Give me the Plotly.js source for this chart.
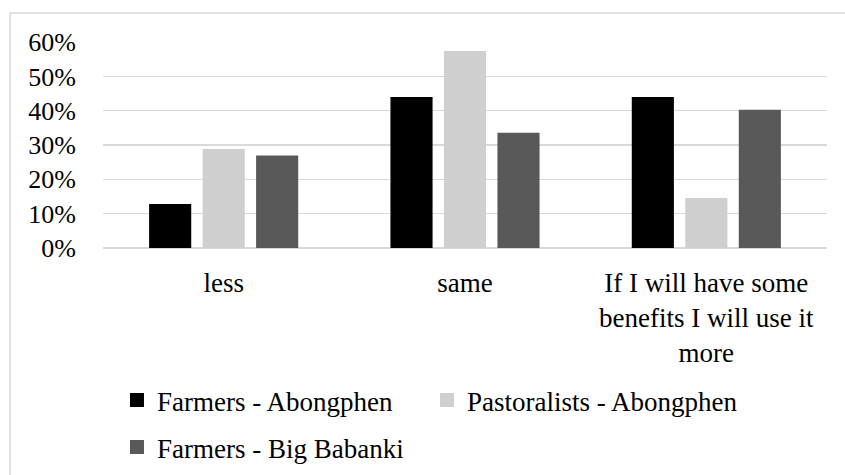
<!DOCTYPE html>
<html>
<head>
<meta charset="utf-8">
<script src="https://cdn.plot.ly/plotly-3.0.1.min.js"></script>
<style>
  html, body { margin: 0; padding: 0; background: #ffffff; }
  #chart { width: 845px; height: 475px; }
</style>
</head>
<body>
<div id="chart"></div>
<script>
// ---- data ----
var categories = ["less", "same", "If I will have some<br>benefits I will use it<br>more"];
var seriesNames = ["Farmers - Abongphen", "Pastoralists - Abongphen", "Farmers - Big Babanki"];
var farmersAbongphen = [0.125, 0.4375, 0.4375];
var pastoralistsAbongphen = [0.2857, 0.5714, 0.1429];
var farmersBigBabanki = [0.2667, 0.3333, 0.40];
var seriesColors = ["#000000", "#d0cfd0", "#595959"];
var yTickVals = [0, 0.1, 0.2, 0.3, 0.4, 0.5, 0.6];
var yTickText = ["0%", "10%", "20%", "30%", "40%", "50%", "60%"];

var FONT = "Liberation Serif, Times New Roman, Times, serif";
var seriesValues = [farmersAbongphen, pastoralistsAbongphen, farmersBigBabanki];
var legendIds = ["legend", "legend", "legend2"];

var traces = seriesNames.map(function (name, i) {
  return {
    type: "bar",
    name: name,
    x: categories,
    y: seriesValues[i],
    marker: { color: seriesColors[i], line: { color: seriesColors[i], width: 2 } },
    legend: legendIds[i],
    hoverinfo: "skip"
  };
});

var layout = {
  width: 845,
  height: 475,
  margin: { l: 103, r: 18, t: 42, b: 227, pad: 0 },
  paper_bgcolor: "#ffffff",
  plot_bgcolor: "#ffffff",
  font: { family: FONT, size: 27, color: "#000000" },
  barmode: "group",
  bargap: 0.335,
  bargroupgap: 0.25,
  showlegend: true,
  xaxis: {
    type: "category",
    showgrid: false,
    showline: false,
    zeroline: false,
    ticks: "",
    ticklabelstandoff: 16,
    tickfont: { family: FONT, size: 27, color: "#000000" }
  },
  yaxis: {
    range: [0, 0.6005],
    tickvals: yTickVals,
    ticktext: yTickText,
    showgrid: true,
    gridcolor: "#d9d9d9",
    gridwidth: 1.3,
    zeroline: true,
    zerolinecolor: "#d9d9d9",
    zerolinewidth: 1.3,
    showline: false,
    ticks: "",
    ticklabelstandoff: 26,
    tickfont: { family: FONT, size: 26, color: "#000000" }
  },
  legend: {
    orientation: "h",
    xref: "paper",
    yref: "container",
    x: 0.0193,
    xanchor: "left",
    y: 1 - 400.5 / 475,
    yanchor: "middle",
    entrywidth: 265,
    entrywidthmode: "pixels",
    bgcolor: "rgba(0,0,0,0)",
    borderwidth: 0,
    font: { family: FONT, size: 27, color: "#000000" }
  },
  legend2: {
    orientation: "h",
    xref: "paper",
    yref: "container",
    x: 0.0193,
    xanchor: "left",
    y: 1 - 447.5 / 475,
    yanchor: "middle",
    bgcolor: "rgba(0,0,0,0)",
    borderwidth: 0,
    font: { family: FONT, size: 27, color: "#000000" }
  },
  shapes: [{
    type: "rect",
    xref: "paper", yref: "paper",
    x0: -93 / 724, x1: 1.5,
    y0: -1.5, y1: 235 / 206,
    line: { color: "#d9d9d9", width: 1.5 },
    fillcolor: "rgba(0,0,0,0)",
    layer: "below"
  }]
};

Plotly.newPlot("chart", traces, layout, { staticPlot: true, displayModeBar: false });
</script>
</body>
</html>
